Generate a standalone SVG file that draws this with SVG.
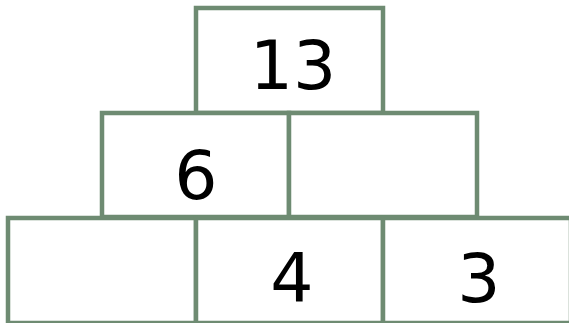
<svg xmlns="http://www.w3.org/2000/svg" width="569" height="323" viewBox="0 0 569 323">
<style>
.cell{fill:#ffffff;stroke:#6e8b72;stroke-width:4.5}
.num{font-family:"DejaVu Sans",sans-serif;font-size:68px;fill:#000;text-anchor:middle}
</style>
<rect width="569" height="323" fill="#ffffff"/>
<g id="top">
<rect class="cell" x="196" y="8" width="187" height="105"/>
<text class="num" x="293" y="89">13</text>
</g>
<g id="mid-left">
<rect class="cell" x="102" y="113" width="187" height="104"/>
<text class="num" x="196" y="199">6</text>
</g>
<g id="mid-right">
<rect class="cell" x="289" y="113" width="188" height="104"/>
</g>
<g id="bot-left">
<rect class="cell" x="8" y="218" width="188" height="105"/>
</g>
<g id="bot-mid">
<rect class="cell" x="196" y="218" width="187" height="105"/>
<text class="num" x="292" y="302">4</text>
</g>
<g id="bot-right">
<rect class="cell" x="383" y="218" width="188" height="105"/>
<text class="num" x="479" y="302">3</text>
</g>
<g id="connectors"></g>
</svg>
